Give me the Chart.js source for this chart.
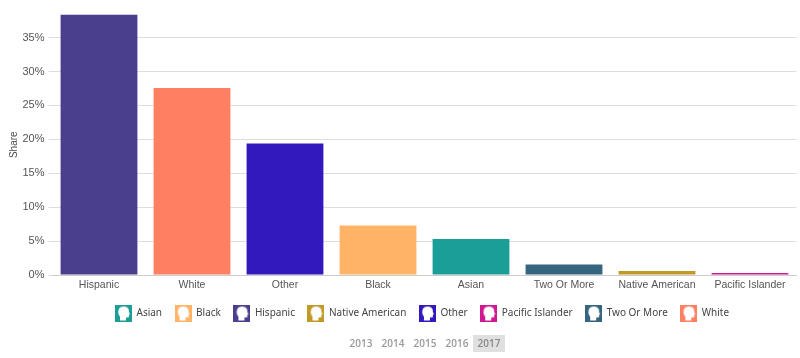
<!DOCTYPE html>
<html><head><meta charset="utf-8">
<style>
html,body{margin:0;padding:0;background:#fff;}
#wrap{position:relative;width:800px;height:358px;overflow:hidden;}
canvas{display:block;}
.yr{position:absolute;top:335px;height:17px;width:32px;text-align:center;font:600 10px/17px "Open Sans",sans-serif;color:#999;}
.yr.on{background:#e0e0e0;color:#888;}
</style>
<script src="https://cdn.jsdelivr.net/npm/chart.js@4"></script>
</head><body>
<div id="wrap"><canvas id="c" width="800" height="358"></canvas>
<div id="years"></div></div>
<script>
const categories=["Hispanic","White","Other","Black","Asian","Two Or More","Native American","Pacific Islander"];
const shares=[38.4,27.55,19.4,7.3,5.3,1.55,0.6,0.3];
const legendOrder=["Asian","Black","Hispanic","Native American","Other","Pacific Islander","Two Or More","White"];
const legendColors=["#1c9e98","#ffb366","#4a3f8c","#c19a26","#3119bd","#d0178f","#36667f","#ff7f63"];
const years=["2013","2014","2015","2016","2017"];
const activeYear="2017";

function headIcon(color){
  const c=document.createElement('canvas');c.width=17;c.height=17;
  const x=c.getContext('2d');
  x.fillStyle=color;x.fillRect(0,0,17,17);
  x.fillStyle='#fff';
  x.beginPath();
  x.moveTo(5,16);x.lineTo(5,12);
  x.bezierCurveTo(2.5,9.5,2.8,4.2,5.5,2.7);
  x.bezierCurveTo(8,1.2,12.8,1.7,13.7,5);
  x.bezierCurveTo(14,6.2,13.9,7,13.9,7.6);
  x.lineTo(15,9.8);x.lineTo(14,10.2);
  x.lineTo(13.9,12.8);x.lineTo(11,13);x.lineTo(11,16);
  x.closePath();x.fill();
  return c;
}
const icons=legendOrder.map((n,i)=>headIcon(legendColors[i]));

const placeLegend={id:'placeLegend',beforeDraw(chart){
  const l=chart.legend;l.left=102.5;l.top=295;
}};

new Chart(document.getElementById('c'),{
  type:'bar',
  data:{labels:categories,datasets:legendOrder.map((name,i)=>({
    label:name,
    backgroundColor:legendColors[i],
    data:categories.map((cat,j)=>cat===name?shares[j]:null)
  }))},
  plugins:[placeLegend],
  options:{
    responsive:false,animation:false,
    layout:{padding:{left:0,right:3.5,top:14.5,bottom:29}},
    datasets:{bar:{categoryPercentage:0.826,barPercentage:1}},
    plugins:{
      tooltip:{enabled:false},
      legend:{position:'bottom',align:'start',
        labels:{usePointStyle:true,pointStyleWidth:16,boxHeight:17,padding:13,color:'#444',
          font:{family:'"Noto Sans"',size:10},
          generateLabels(){return legendOrder.map((n,i)=>({text:n,pointStyle:icons[i],fillStyle:legendColors[i],strokeStyle:legendColors[i],lineWidth:0,datasetIndex:i,fontColor:'#444'}));}
        }}
    },
    scales:{
      x:{stacked:true,grid:{display:false,drawTicks:false},border:{color:'#ccc',width:1},
        afterFit(s){s.height=21;},
        ticks:{color:'#555',font:{family:'"Liberation Sans"',size:10.5},maxRotation:0,autoSkip:false,padding:4}},
      y:{stacked:true,min:0,max:38.4,
        afterFit(s){s.width=52.5;},
        afterBuildTicks(s){s.ticks=s.ticks.filter(t=>t.value%5===0);},
        grid:{color:'#ddd',tickLength:4,tickColor:'#ddd',lineWidth:1},
        border:{display:false},
        title:{display:true,text:'Share',color:'#444',font:{family:'"Liberation Sans"',size:10},padding:{top:8,bottom:0}},
        ticks:{stepSize:5,color:'#555',padding:4,font:{family:'"Liberation Sans"',size:11},callback:v=>v+'%'}}
    }
  }
});
const yc=document.getElementById('years');
years.forEach((y,i)=>{const d=document.createElement('div');d.className='yr'+(y===activeYear?' on':'');d.textContent=y;d.style.left=(345+i*32)+'px';yc.appendChild(d);});
</script>
</body></html>
